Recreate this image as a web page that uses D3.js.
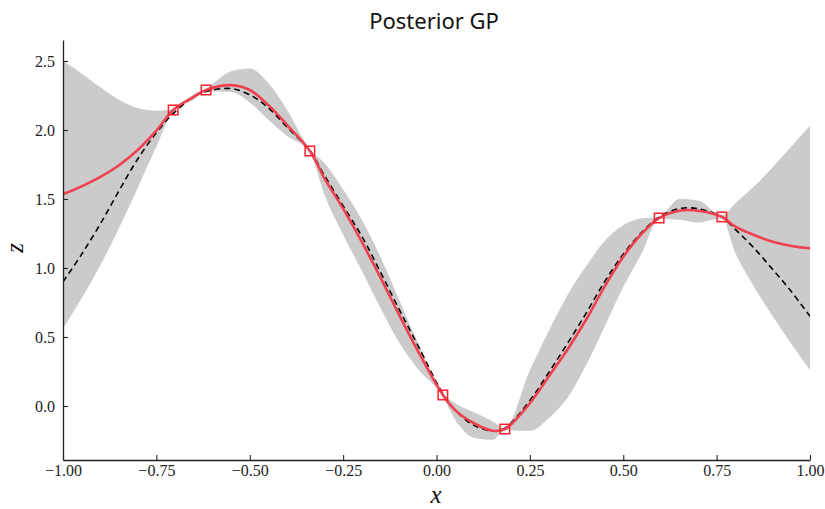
<!DOCTYPE html>
<html>
<head>
<meta charset="utf-8">
<script src="https://cdn.jsdelivr.net/npm/d3@7"></script>
<style>
  body { margin: 0; background: #fff; }
  .tick text { font-family: "Liberation Serif", serif; font-size: 16px; fill: #222; }
</style>
</head>
<body>
<svg id="chart"></svg>
<script>
const svgWidth = 825, svgHeight = 509;
const margin = {top: 40, right: 15, bottom: 49, left: 63},
    width = svgWidth - margin.left - margin.right,
    height = svgHeight - margin.top - margin.bottom;

const xGrid = [-1.00, -0.95, -0.90, -0.85, -0.80, -0.75, -0.705, -0.65, -0.617, -0.55,
    -0.50, -0.45, -0.40, -0.339, -0.30, -0.25, -0.20, -0.15, -0.10, -0.05,
    0.017, 0.05, 0.10, 0.15, 0.183, 0.25, 0.30, 0.35, 0.40, 0.45,
    0.50, 0.55, 0.596, 0.65, 0.70, 0.764, 0.80, 0.85, 0.90, 0.95, 1.00];
// posterior mean (red)
const meanZ = [1.535, 1.592, 1.660, 1.745, 1.855, 1.995, 2.145, 2.24, 2.29, 2.325,
    2.29, 2.18, 2.036, 1.848, 1.65, 1.43, 1.19, 0.93, 0.66, 0.40,
    0.08, -0.03, -0.125, -0.179, -0.167, 0.02, 0.212, 0.406, 0.623, 0.865,
    1.082, 1.25, 1.362, 1.415, 1.415, 1.37, 1.30, 1.239, 1.19, 1.16, 1.143];
// true function (dashed)
const trueZ = [0.90, 1.10, 1.32, 1.56, 1.79, 1.98, 2.12, 2.24, 2.28, 2.30,
    2.255, 2.16, 2.02, 1.85, 1.67, 1.45, 1.23, 0.97, 0.70, 0.44,
    0.09, -0.03, -0.14, -0.18, -0.16, 0.04, 0.24, 0.45, 0.67, 0.90,
    1.10, 1.26, 1.37, 1.43, 1.43, 1.37, 1.28, 1.145, 0.99, 0.83, 0.65];
// confidence band
const upperZ = [2.50, 2.41, 2.31, 2.22, 2.16, 2.14, 2.15, 2.26, 2.30, 2.425,
    2.445, 2.34, 2.145, 1.86, 1.76, 1.57, 1.35, 1.08, 0.77, 0.46,
    0.09, 0.02, -0.045, -0.11, -0.16, 0.26, 0.54, 0.80, 1.01, 1.195,
    1.31, 1.36, 1.37, 1.50, 1.49, 1.38, 1.47, 1.59, 1.73, 1.88, 2.03];
const lowerZ = [0.56, 0.78, 1.02, 1.29, 1.58, 1.88, 2.14, 2.22, 2.28, 2.275,
    2.20, 2.075, 1.956, 1.838, 1.53, 1.24, 0.98, 0.71, 0.46, 0.27,
    0.07, -0.10, -0.23, -0.245, -0.175, -0.18, -0.09, 0.056, 0.293, 0.575,
    0.862, 1.11, 1.355, 1.35, 1.33, 1.36, 1.11, 0.865, 0.65, 0.45, 0.26];
// observations
const obsX = [-0.705, -0.617, -0.339, 0.017, 0.183, 0.596, 0.764];
const obsZ = [2.145, 2.29, 1.848, 0.08, -0.167, 1.362, 1.37];

const xTicks = [-1.00, -0.75, -0.50, -0.25, 0.00, 0.25, 0.50, 0.75, 1.00];
const yTicks = [0.0, 0.5, 1.0, 1.5, 2.0, 2.5];

const rows = xGrid.map((x, i) => ({x: x, mean: meanZ[i], truth: trueZ[i], hi: upperZ[i], lo: lowerZ[i]}));

const chart = d3.select("#chart")
    .attr("width", svgWidth)
    .attr("height", svgHeight);

const g = chart.append("g")
    .attr("transform", `translate(${margin.left},${margin.top})`);

var xScale = d3.scaleLinear().domain([-1, 1]).range([0, width]);
var yScale = d3.scaleLinear().domain([-0.3913, 2.6522]).range([height, 0]);

g.append("clipPath").attr("id", "clip")
  .append("rect").attr("width", width).attr("height", height);

var band = d3.area()
    .x(d => xScale(d.x))
    .y0(d => yScale(d.lo))
    .y1(d => yScale(d.hi))
    .curve(d3.curveMonotoneX);

var line = key => d3.line()
    .x(d => xScale(d.x))
    .y(d => yScale(d[key]))
    .curve(d3.curveCatmullRom.alpha(0.5));

const plot = g.append("g").attr("clip-path", "url(#clip)");

plot.append("path").datum(rows)
    .attr("d", band)
    .attr("fill", "#cbcbcb");

plot.append("path").datum(rows)
    .attr("d", line("truth"))
    .attr("fill", "none")
    .attr("stroke", "#000")
    .attr("stroke-width", 1.6)
    .attr("stroke-dasharray", "6,4");

plot.append("path").datum(rows)
    .attr("d", line("mean"))
    .attr("fill", "none")
    .attr("stroke", "#f0404e")
    .attr("stroke-width", 2.6);

const sq = 9.5;
g.selectAll(".obs").data(obsX)
  .enter().append("rect")
    .attr("class", "obs")
    .attr("x", (d) => xScale(d) - sq / 2)
    .attr("y", (d, i) => yScale(obsZ[i]) - sq / 2)
    .attr("width", sq)
    .attr("height", sq)
    .attr("fill", "none")
    .attr("stroke", "#ff1f2a")
    .attr("stroke-width", 1.5);

// axes: ticks point inward, only left and bottom spines
var xAxis = d3.axisBottom(xScale).tickValues(xTicks)
    .tickSizeInner(-5).tickSizeOuter(0).tickPadding(5)
    .tickFormat(d => d3.format(".2f")(d).replace("-", "\u2212"));
var yAxis = d3.axisLeft(yScale).tickValues(yTicks)
    .tickSizeInner(-5).tickSizeOuter(0).tickPadding(8)
    .tickFormat(d3.format(".1f"));

const gx = g.append("g").attr("transform", `translate(0,${height})`).call(xAxis);
const gy = g.append("g").call(yAxis);
[gx, gy].forEach(a => {
  a.select(".domain").attr("stroke", "#222").attr("stroke-width", 1.3);
  a.selectAll(".tick line").attr("stroke", "#222").attr("stroke-width", 1.1);
});

// title and labels
chart.append("text")
    .attr("x", 434).attr("y", 29)
    .attr("text-anchor", "middle")
    .style("font-family", "'Noto Sans', sans-serif")
    .style("font-size", "22px")
    .attr("fill", "#111")
    .text("Posterior GP");

chart.append("text")
    .attr("x", 436).attr("y", 503)
    .attr("text-anchor", "middle")
    .style("font-family", "'Liberation Serif', serif")
    .style("font-style", "italic")
    .style("font-size", "25px")
    .attr("fill", "#111")
    .text("x");

chart.append("text")
    .attr("transform", "translate(23,248) rotate(-90)")
    .attr("text-anchor", "middle")
    .style("font-family", "'Liberation Serif', serif")
    .style("font-style", "italic")
    .style("font-size", "25px")
    .attr("fill", "#111")
    .text("z");
</script>
</body>
</html>
